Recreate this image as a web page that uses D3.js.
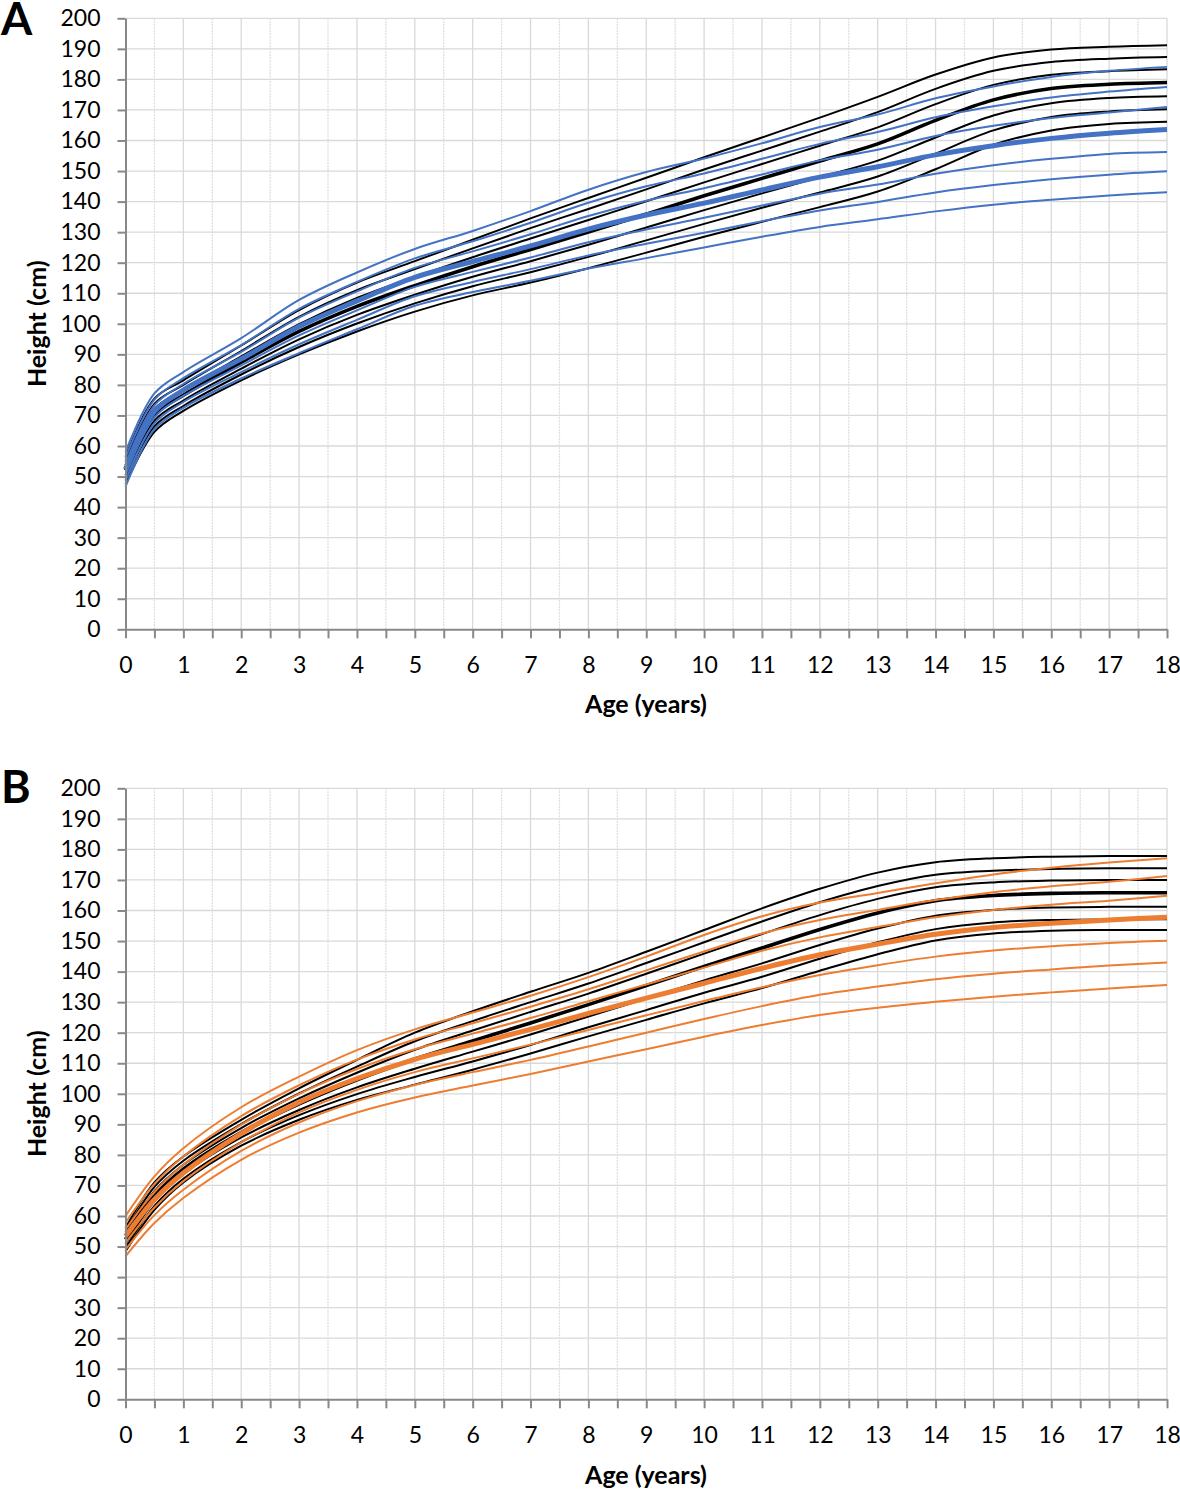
<!DOCTYPE html>
<html><head><meta charset="utf-8">
<script src="https://cdn.jsdelivr.net/npm/d3@7"></script>
<style>
body{margin:0;background:#fff}
text{font-family:Lato,"Open Sans",sans-serif}
</style>
</head><body>
<svg id="chart" width="1180" height="1489"></svg>
<script>
// ---------- data ----------
const ages = [0, 0.5, 1, 2, 3, 4, 5, 6, 7, 8, 9, 10, 11, 12, 13, 14, 15, 16, 17, 18];
const heightTicks = [0,10,20,30,40,50,60,70,80,90,100,110,120,130,140,150,160,170,180,190,200];
const ageTicks = [0,0.5,1,1.5,2,2.5,3,3.5,4,4.5,5,5.5,6,6.5,7,7.5,8,8.5,9,9.5,10,10.5,11,11.5,12,12.5,13,13.5,14,14.5,15,15.5,16,16.5,17,17.5,18];

// Panel A – boys, blue reference (top to bottom, middle = median)
const boysBlue = [
  [58.1, 77.2, 84.2, 95.3, 107.8, 116.8, 124.5, 130.4, 136.9, 143.9, 149.7, 154.1, 159.1, 164.4, 168.5, 173.8, 177.7, 180.8, 182.8, 184.1],
  [56.2, 75.2, 82.2, 93.0, 104.9, 113.7, 121.4, 127.0, 133.1, 139.6, 145.0, 149.2, 154.0, 158.9, 162.8, 167.6, 171.2, 174.1, 176.0, 177.5],
  [54.3, 73.3, 80.3, 90.8, 102.0, 110.6, 118.3, 123.7, 129.3, 135.3, 140.3, 144.4, 148.9, 153.5, 157.0, 161.5, 164.8, 167.4, 169.2, 171.0],
  [52.4, 71.3, 78.3, 88.5, 99.1, 107.5, 115.2, 120.4, 125.5, 131.0, 135.6, 139.5, 143.8, 148.0, 151.4, 155.3, 158.3, 160.7, 162.4, 163.6],
  [50.5, 69.4, 76.4, 86.4, 96.2, 104.4, 112.1, 117.0, 121.7, 126.7, 130.9, 134.7, 138.7, 142.6, 145.6, 149.1, 151.9, 154.0, 155.6, 156.2],
  [48.6, 67.4, 74.4, 84.2, 93.3, 101.3, 109.0, 113.7, 117.9, 122.4, 126.2, 129.8, 133.6, 137.1, 139.9, 143.0, 145.4, 147.3, 148.8, 149.9],
  [46.7, 65.5, 72.5, 82.1, 90.4, 98.2, 105.9, 110.4, 114.1, 118.1, 121.5, 125.0, 128.5, 131.7, 134.2, 136.8, 139.0, 140.6, 142.0, 143.1]
];
// Panel A – boys, black reference
const boysBlack = [
  [56.5, 75.5, 81.5, 92.9, 104.5, 113.5, 120.5, 127.5, 134.5, 141.2, 147.8, 154.5, 161.0, 167.5, 174.3, 181.6, 187.2, 189.8, 190.7, 191.2],
  [55.1, 73.8, 80.0, 91.1, 102.3, 111.0, 117.9, 124.7, 131.3, 137.6, 144.0, 150.5, 156.7, 162.9, 169.3, 176.9, 182.8, 185.7, 186.8, 187.3],
  [53.7, 72.1, 78.4, 89.3, 99.9, 108.5, 115.3, 121.8, 127.9, 134.0, 140.1, 146.3, 152.3, 158.3, 164.3, 171.9, 178.2, 181.5, 182.7, 183.3],
  [52.1, 70.2, 76.6, 87.4, 97.5, 105.7, 112.5, 118.7, 124.3, 130.0, 135.9, 141.9, 147.6, 153.3, 158.9, 166.6, 173.3, 177.0, 178.4, 179.0],
  [50.5, 68.3, 74.9, 85.3, 94.9, 102.9, 109.5, 115.4, 120.5, 125.9, 131.5, 137.2, 142.7, 148.0, 153.4, 161.0, 168.2, 172.2, 173.9, 174.5],
  [49.0, 66.4, 73.1, 83.4, 92.4, 100.1, 106.7, 112.3, 116.9, 121.9, 127.3, 132.7, 138.0, 143.0, 148.2, 155.7, 163.3, 167.7, 169.5, 170.2],
  [47.5, 64.6, 71.5, 81.5, 90.0, 97.5, 104.0, 109.3, 113.5, 118.2, 123.3, 128.5, 133.4, 138.2, 143.3, 150.6, 158.6, 163.3, 165.4, 166.1]
];
// Panel B – girls, orange reference
const girlsOrange = [
  [60.0, 73.0, 82.2, 95.6, 105.6, 114.3, 121.1, 126.6, 132.1, 138.2, 144.9, 152.0, 158.1, 162.6, 165.7, 168.9, 171.8, 174.0, 175.7, 177.1],
  [57.8, 70.5, 79.5, 92.7, 102.8, 111.2, 117.8, 123.1, 128.5, 134.2, 140.4, 146.6, 152.5, 156.9, 160.2, 163.4, 166.0, 167.9, 169.4, 171.3],
  [55.6, 67.9, 76.8, 89.9, 100.0, 108.1, 114.6, 119.7, 124.8, 130.3, 135.8, 141.3, 146.8, 151.2, 154.6, 157.8, 160.2, 161.9, 163.2, 164.8],
  [53.4, 65.4, 74.1, 87.0, 97.2, 105.0, 111.3, 116.2, 121.1, 126.3, 131.3, 136.2, 141.1, 145.5, 149.0, 152.2, 154.4, 155.8, 156.9, 157.8],
  [51.2, 62.8, 71.4, 84.1, 93.9, 101.3, 107.1, 111.6, 116.1, 120.9, 125.7, 130.4, 134.9, 138.9, 142.1, 144.9, 146.9, 148.3, 149.4, 150.1],
  [49.0, 60.3, 68.6, 81.3, 90.6, 97.6, 102.9, 107.1, 111.1, 115.5, 120.0, 124.5, 128.7, 132.4, 135.1, 137.5, 139.3, 140.7, 142.0, 143.0],
  [46.8, 57.7, 65.9, 78.4, 87.3, 93.9, 98.8, 102.7, 106.5, 110.6, 114.6, 118.7, 122.5, 125.8, 128.2, 130.1, 131.8, 133.2, 134.5, 135.6]
];
// Panel B – girls, black reference
const girlsBlack = [
  [56.1, 71.0, 79.5, 91.5, 101.8, 111.1, 120.0, 127.0, 133.4, 139.6, 146.5, 153.6, 160.7, 167.1, 172.4, 175.8, 177.1, 177.6, 177.8, 177.8],
  [54.8, 69.5, 78.1, 90.1, 100.1, 108.9, 117.2, 123.8, 130.0, 136.1, 142.8, 149.6, 156.4, 162.7, 168.0, 171.7, 173.0, 173.6, 173.8, 173.8],
  [53.6, 68.1, 76.8, 88.8, 98.5, 106.9, 114.4, 120.7, 126.8, 132.8, 139.3, 145.9, 152.3, 158.5, 163.8, 167.6, 169.2, 169.8, 170.0, 170.0],
  [52.3, 66.5, 75.3, 87.3, 96.7, 104.6, 111.4, 117.3, 123.2, 129.2, 135.4, 141.7, 147.7, 153.8, 159.2, 163.2, 164.9, 165.6, 165.8, 165.8],
  [50.8, 64.8, 73.7, 85.7, 94.7, 102.1, 108.2, 113.8, 119.4, 125.3, 131.2, 137.1, 142.7, 148.7, 154.1, 158.3, 160.2, 161.0, 161.2, 161.2],
  [49.5, 63.3, 72.2, 84.2, 93.0, 99.9, 105.5, 110.6, 116.0, 121.8, 127.4, 133.1, 138.3, 144.2, 149.6, 153.9, 156.1, 156.9, 157.1, 157.1],
  [48.4, 62.0, 71.0, 83.0, 91.5, 98.0, 103.0, 107.9, 113.2, 118.8, 124.2, 129.6, 134.6, 140.3, 145.7, 150.2, 152.5, 153.4, 153.6, 153.6]
];

// ---------- drawing ----------
const svg = d3.select("#chart");
const x = d3.scaleLinear().domain([0, 18]).range([125.5, 1167]);

const panels = [
  {letter: "A", top: 18.3, bottom: 629.3, ref: boysBlue, black: boysBlack, color: "#4472C4", letterY: 35, xTitleY: 713},
  {letter: "B", top: 788.3, bottom: 1399.3, ref: girlsOrange, black: girlsBlack, color: "#ED7D31", letterY: 803, xTitleY: 1484}
];

panels.forEach(p => {
  const y = d3.scaleLinear().domain([0, 200]).range([p.bottom, p.top]);
  const g = svg.append("g");

  // gridlines
  g.append("g").selectAll("line").data(heightTicks.filter(d => d > 0)).join("line")
    .attr("x1", x(0)).attr("x2", x(18)).attr("y1", d => y(d)).attr("y2", d => y(d))
    .attr("stroke", "#d9d9d9").attr("stroke-width", 1.3);
  g.append("g").selectAll("line").data(ageTicks.filter(d => d > 0)).join("line")
    .attr("x1", d => x(d)).attr("x2", d => x(d)).attr("y1", y(0)).attr("y2", y(200))
    .attr("stroke", d => Number.isInteger(d) ? "#d9d9d9" : "#dedede")
    .attr("stroke-width", 1.3)
    .attr("stroke-dasharray", d => Number.isInteger(d) ? null : "2,1");

  const line = d3.line().x((d, i) => x(ages[i])).y(d => y(d)).curve(d3.curveCatmullRom.alpha(0.5));

  // black reference lines
  g.append("g").selectAll("path").data(p.black).join("path")
    .attr("d", line).attr("fill", "none").attr("stroke", "#000")
    .attr("stroke-width", (d, i) => i === 3 ? 3.6 : 2);
  // coloured reference lines
  g.append("g").selectAll("path").data(p.ref).join("path")
    .attr("d", line).attr("fill", "none").attr("stroke", p.color)
    .attr("stroke-width", (d, i) => i === 3 ? 5 : 2);

  // axes
  const yAxis = g.append("g").attr("transform", `translate(${x(0)},0)`)
    .call(d3.axisLeft(y).tickValues(heightTicks).tickSize(8).tickSizeOuter(0).tickPadding(17));
  const xAxis = g.append("g").attr("transform", `translate(0,${y(0)})`)
    .call(d3.axisBottom(x).tickValues(ageTicks).tickSize(9).tickSizeOuter(0).tickPadding(18)
      .tickFormat(d => Number.isInteger(d) ? d : ""));
  [yAxis, xAxis].forEach(a => {
    a.select(".domain").attr("stroke", "#888").attr("stroke-width", 2);
    a.selectAll(".tick line").attr("stroke", "#888").attr("stroke-width", 2);
    a.selectAll(".tick text").attr("fill", "#000").style("font-size", "23px").style("font-family", "Lato");
  });

  // titles
  svg.append("text").attr("x", 646).attr("y", p.xTitleY).attr("text-anchor", "middle")
    .style("font-size", "25px").style("font-weight", "bold").text("Age (years)");
  svg.append("text").attr("transform", `translate(46,${(p.top + p.bottom) / 2}) rotate(-90)`)
    .attr("text-anchor", "middle").style("font-size", "25px").style("font-weight", "bold").text("Height (cm)");
  svg.append("text").attr("x", 1).attr("y", p.letterY)
    .style("font-size", "45px").style("font-weight", "bold").text(p.letter);
});
</script>
</body></html>
